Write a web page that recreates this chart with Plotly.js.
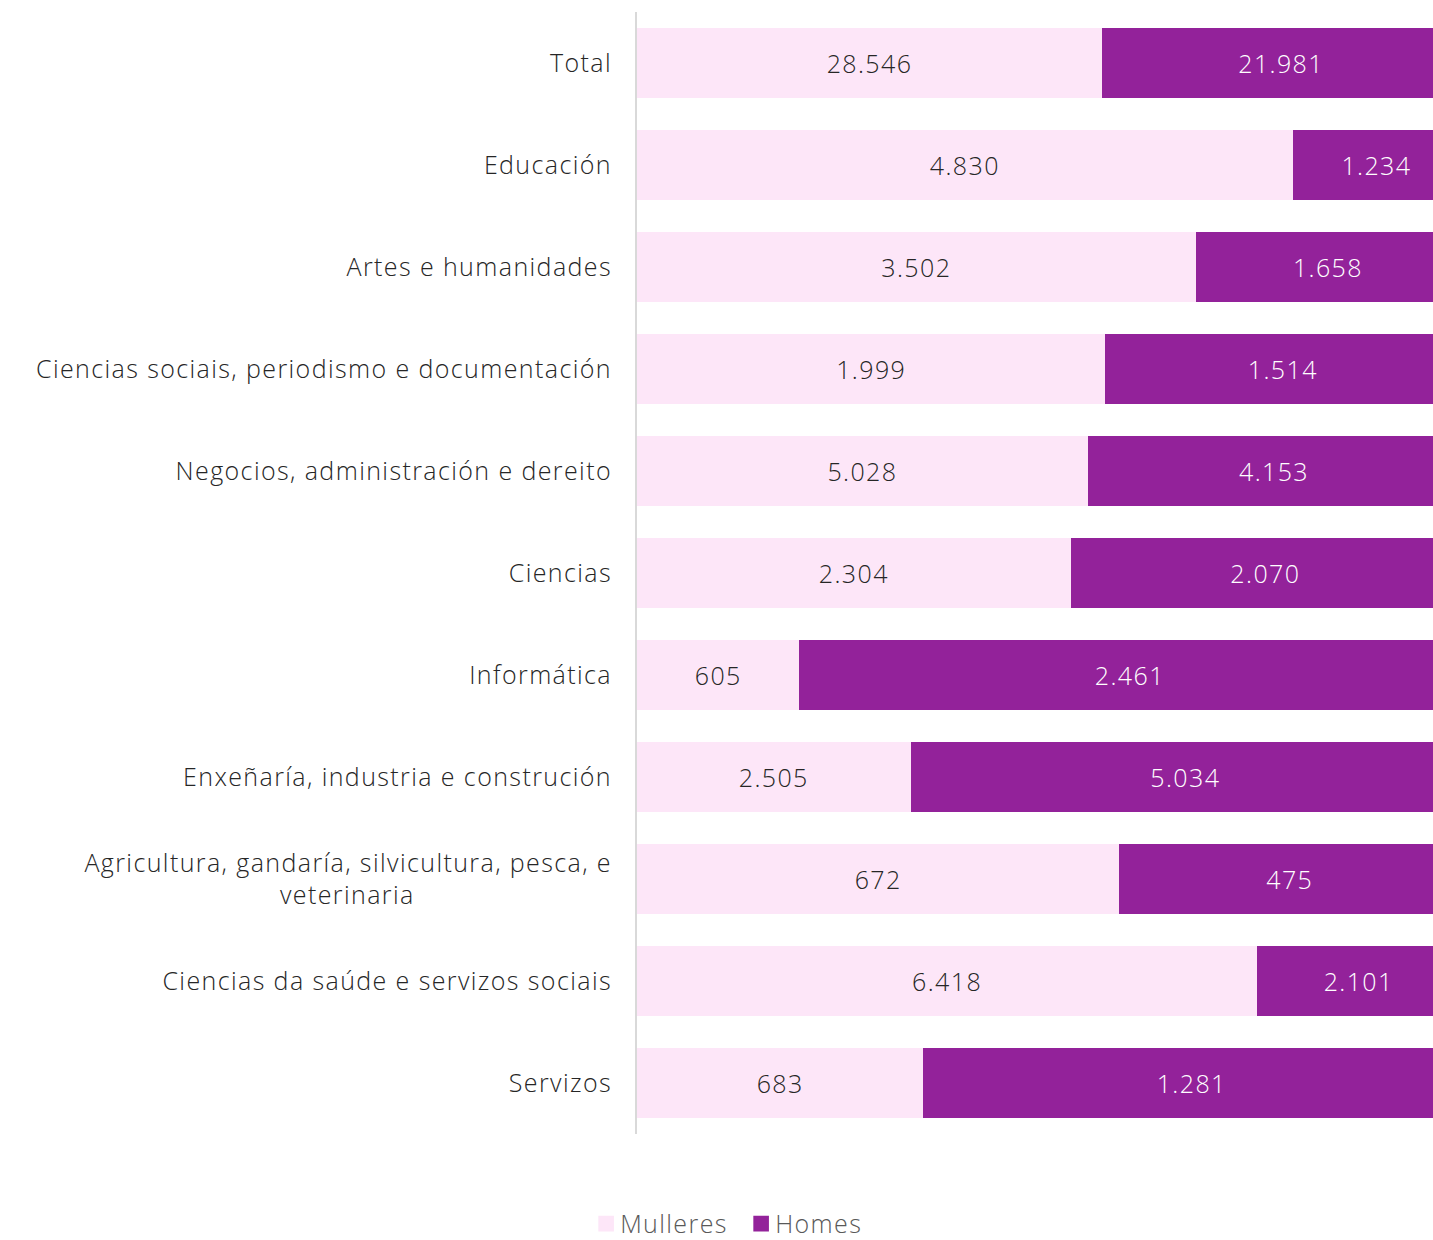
<!DOCTYPE html>
<html>
<head>
<meta charset="utf-8">
<script src="https://cdn.plot.ly/plotly-3.0.1.min.js"></script>
<style>
html,body{margin:0;padding:0;background:#fff;}
#chart{width:1433px;height:1240px;}
#chart svg text{letter-spacing:1.4px;}
#chart .legend .legendpoints path{transform:translate(26px,0px) scale(1.3);}
</style>
</head>
<body>
<div id="chart"></div>
<script>
const NB = '\u00a0';
const categories = [
  'Total',
  'Educación',
  'Artes e humanidades',
  'Ciencias sociais, periodismo e documentación',
  'Negocios, administración e dereito',
  'Ciencias',
  'Informática',
  'Enxeñaría, industria e construción',
  'Agricultura, gandaría, silvicultura, pesca, e<br>veterinaria' + NB.repeat(25),
  'Ciencias da saúde e servizos sociais',
  'Servizos'
];
const mulleres = [28546, 4830, 3502, 1999, 5028, 2304, 605, 2505, 672, 6418, 683];
const homes    = [21981, 1234, 1658, 1514, 4153, 2070, 2461, 5034, 475, 2101, 1281];

const fmt = v => v.toLocaleString('de-DE');
const FONT = '"Open Sans", Roboto, sans-serif';

const traces = [
  {
    type: 'bar', orientation: 'h', name: 'Mulleres',
    y: categories, x: mulleres,
    text: mulleres.map(fmt), textposition: 'inside', insidetextanchor: 'middle',
    textangle: 0, constraintext: 'none',
    textfont: {family: FONT, size: 25, color: '#262626', weight: 300},
    marker: {color: '#FDE6F8', line: {width: 0}},
    hoverinfo: 'skip'
  },
  {
    type: 'bar', orientation: 'h', name: 'Homes',
    y: categories, x: homes,
    text: homes.map(fmt), textposition: 'inside', insidetextanchor: 'middle',
    textangle: 0, constraintext: 'none',
    textfont: {family: FONT, size: 25, color: '#ffffff', weight: 300},
    marker: {color: '#93229A', line: {width: 0}},
    hoverinfo: 'skip'
  }
];

const layout = {
  width: 1433, height: 1240,
  margin: {l: 637, r: 0, t: 12, b: 106, autoexpand: false},
  barmode: 'stack', barnorm: 'fraction', bargap: 0.314,
  paper_bgcolor: '#ffffff', plot_bgcolor: '#ffffff',
  font: {family: FONT, size: 25, color: '#262626', weight: 300},
  hovermode: false,
  xaxis: {range: [0, 0.967], visible: false, showgrid: false, zeroline: false, fixedrange: true},
  yaxis: {
    autorange: 'reversed', type: 'category',
    showline: true, linecolor: '#d9d9d9', linewidth: 2,
    showgrid: false, zeroline: false, ticks: '', ticklabelstandoff: 18,
    tickfont: {family: FONT, size: 25, color: '#262626', weight: 300}
  },
  showlegend: true,
  legend: {
    orientation: 'h', xref: 'container', yref: 'container',
    x: 0.513, xanchor: 'center', y: 0.013, yanchor: 'middle',
    font: {family: FONT, size: 25, color: '#595959', weight: 300},
    traceorder: 'normal', itemwidth: 30,
    entrywidth: 110, entrywidthmode: 'pixels'
  }
};

Plotly.newPlot('chart', traces, layout, {displayModeBar: false, staticPlot: true});
</script>
</body>
</html>
